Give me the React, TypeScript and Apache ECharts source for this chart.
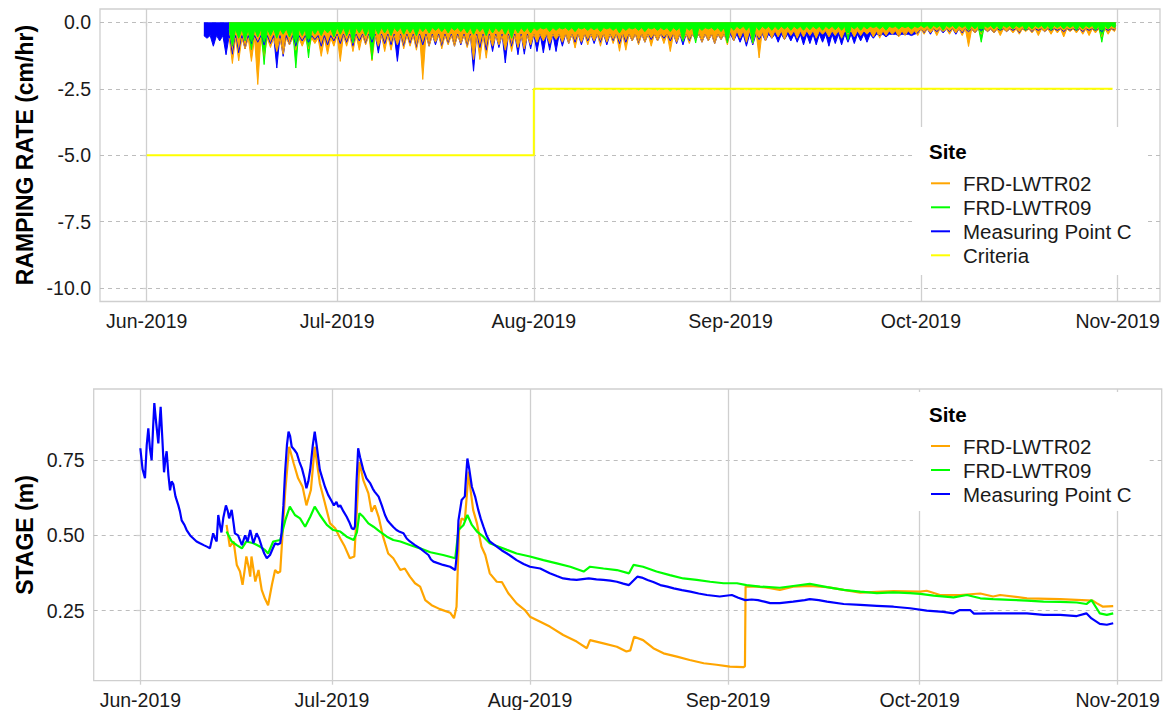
import React, { useEffect, useRef } from "react";
import * as echarts from "echarts";

// ---------- shared ----------
const DAY = 86400000;
const JUN1 = new Date(2019, 5, 1).getTime();
const t = (d: number) => JUN1 + d * DAY; // day offset -> time
const MONTH_NAMES = ["Jan", "Feb", "Mar", "Apr", "May", "Jun", "Jul", "Aug", "Sep", "Oct", "Nov", "Dec"];
// day offsets (since Jun 1, 2019) of Jun 1 .. Nov 1
const MONTH_TICKS = [0, 30, 61, 92, 122, 153];
const SITES = ["FRD-LWTR02", "FRD-LWTR09", "Measuring Point C", "Criteria"];
const COLORS: Record<string, string> = {
  "FRD-LWTR02": "#FFA500",
  "FRD-LWTR09": "#00FF00",
  "Measuring Point C": "#0000FF",
  Criteria: "#FFFF00",
};

// ---------- ramping rate (cm/hr): daily minimum drop, read per day ----------
const RAMP_TICKS = [-10, -7.5, -5, -2.5, 0];
// typical dense band depth per month (Jun..Oct)
const rampBandOrange = [-0.6, -0.5, -0.45, -0.32, -0.25];
const rampBandGreen = [-0.25, -0.2, -0.2, -0.15, -0.12];
const rampBandBlue = [-0.5, -0.45, -0.45, -0.45, -0.25];
const rampStartBlue = 9; // Jun 10
const rampStartSites = 13; // Jun 14
const rampMinBlue = [
  -0.6, -0.9, -0.7, -1.22, -1.2, -1.15, -1.0, -0.8, -0.75, -0.85, -0.8, -1.72, -1.28, -0.85, -0.9, -0.7, -0.75, -0.65, -0.9, -0.85, -0.7,
  -0.8, -0.75, -0.9, -0.7, -0.8, -0.75, -1.16, -0.8, -0.85, -1.47, -0.9, -0.8, -0.95, -0.85, -0.9, -0.85, -0.9, -0.8, -0.9, -0.85, -0.9, -1.84, -0.95, -1.05, -1.1, -0.95, -1.53, -0.9, -1.22, -1.2, -1.0,
  -1.1, -1.15, -1.05, -1.1, -0.9, -0.8, -0.75, -0.85, -0.7, -0.8, -0.75, -0.85, -0.7, -0.8, -0.75, -0.7, -0.8, -0.75, -0.65, -0.7, -0.6, -0.7, -0.8, -0.85, -0.7, -0.65, -0.75, -0.7, -0.8, -0.65, -0.7,
  -0.7, -0.75, -0.9, -0.85, -0.65, -0.7, -0.6, -0.75, -0.65, -0.7, -0.75, -0.85, -0.8, -0.85, -0.75, -0.9, -0.8, -0.85, -0.75, -0.8, -0.7, -0.75, -0.6, -0.5, -0.55, -0.45, -0.5, -0.45, -0.5, -0.4,
  -0.4, -0.45, -0.35, -0.4, -0.35, -0.45, -0.4, -0.35, -0.4, -0.3, -0.35, -0.4, -0.3, -0.35, -0.3, -0.4, -0.3, -0.35, -0.3, -0.35, -0.3, -0.3, -0.35, -0.3, -0.3, -0.35, -0.3, -0.3, -0.35, -0.3, -0.3,
];
const rampMinOrange = [
  -1.55, -1.45, -1.0, -1.47, -2.34, -1.3, -0.95, -1.1, -1.2, -0.85, -1.05, -0.9, -1.0, -0.8, -1.28, -1.2, -0.9,
  -1.47, -0.9, -1.1, -1.05, -0.85, -1.45, -0.9, -1.1, -1.05, -0.85, -1.0, -0.9, -1.05, -2.15, -0.9, -0.75, -1.0, -0.85, -0.9, -0.8, -0.95, -1.4, -1.4, -1.35, -0.9, -0.85, -1.05, -1.1, -0.95, -1.0, -0.85,
  -0.75, -0.7, -0.8, -0.65, -0.75, -0.8, -0.97, -0.75, -0.85, -0.7, -0.9, -0.75, -0.8, -1.09, -1.05, -0.7, -0.85, -0.75, -0.9, -0.7, -0.8, -1.1, -0.75, -0.7, -0.8, -0.65, -0.75, -0.7, -0.8, -0.65, -0.85,
  -0.7, -0.6, -0.75, -0.8, -1.34, -0.7, -0.6, -0.55, -0.65, -0.5, -0.6, -0.55, -0.5, -0.6, -0.45, -0.55, -0.5, -0.6, -0.45, -0.55, -0.5, -0.45, -0.55, -0.6, -0.5, -0.45, -0.55, -0.5, -0.45, -0.5,
  -0.45, -0.4, -0.5, -0.35, -0.45, -0.4, -0.5, -0.91, -0.4, -0.45, -0.35, -0.4, -0.5, -0.35, -0.4, -0.45, -0.35, -0.4, -0.5, -0.35, -0.45, -0.4, -0.55, -0.35, -0.4, -0.45, -0.5, -0.4, -0.55, -0.45, -0.35,
];
const rampMinGreen = [
  -0.9, -0.6, -0.7, -1.03, -0.55, -1.59, -0.5, -0.6, -0.45, -0.55, -1.72, -0.5, -1.34, -0.45, -0.5, -0.4, -0.55,
  -0.45, -0.5, -0.78, -0.4, -0.5, -1.4, -0.45, -0.4, -0.5, -0.35, -0.45, -0.4, -0.5, -0.35, -0.4, -0.3, -0.35, -0.4, -0.3, -0.35, -0.4, -0.45, -0.35, -0.5, -0.4, -0.35, -0.45, -0.6, -0.4, -0.35, -0.4,
  -0.3, -0.25, -0.35, -0.3, -0.25, -0.3, -0.35, -0.25, -0.3, -0.28, -0.35, -0.25, -0.3, -0.4, -0.3, -0.25, -0.3, -0.35, -0.25, -0.3, -0.28, -0.35, -0.3, -0.72, -0.3, -0.78, -0.3, -0.25, -0.3, -0.35, -0.78,
  -0.3, -0.25, -0.3, -0.78, -0.3, -0.25, -0.3, -0.28, -0.25, -0.3, -0.25, -0.3, -0.28, -0.25, -0.3, -0.25, -0.28, -0.3, -0.65, -0.25, -0.3, -0.25, -0.2, -0.25, -0.3, -0.2, -0.25, -0.2, -0.25, -0.2,
  -0.2, -0.25, -0.2, -0.3, -0.2, -0.25, -0.2, -0.3, -0.25, -0.75, -0.2, -0.25, -0.3, -0.2, -0.25, -0.2, -0.3, -0.25, -0.2, -0.25, -0.3, -0.2, -0.25, -0.2, -0.3, -0.25, -0.2, -0.3, -0.75, -0.25, -0.2,
];
const criteriaDays = [0, 61, 61, 152.2];
const criteriaValues = [-5, -5, -2.5, -2.5];

// ---------- stage (m): [day since Jun 1, value] ----------
const STAGE_TICKS = [0.25, 0.5, 0.75];
const stageOrange: [number, number][] = [
  [13.5, 0.535], [14.0, 0.463], [14.6, 0.48], [15.1, 0.402], [15.6, 0.38], [16.0, 0.336], [16.3, 0.38], [16.6, 0.43], [17.0, 0.39], [17.2, 0.363], [17.4, 0.43], [18.0, 0.347], [18.5, 0.385], [19.0, 0.319], [19.5, 0.29], [20.0, 0.268], [20.6, 0.336], [21.1, 0.385], [21.5, 0.375], [21.9, 0.38],
  [22.3, 0.518], [22.7, 0.651], [23.3, 0.795], [24.0, 0.74], [24.7, 0.69], [25.4, 0.662], [26.0, 0.6], [26.7, 0.651], [27.3, 0.795], [28.1, 0.673], [28.9, 0.607], [29.7, 0.54], [30.5, 0.524], [31.3, 0.49], [32.0, 0.463], [32.8, 0.424], [33.5, 0.43],
  [33.9, 0.585], [34.3, 0.745], [34.9, 0.684], [35.7, 0.64], [36.2, 0.579], [36.7, 0.6], [37.3, 0.562], [38.0, 0.496], [38.8, 0.44], [39.6, 0.424], [40.7, 0.385], [41.4, 0.39], [42.2, 0.363], [43.0, 0.341], [43.8, 0.33], [44.6, 0.285], [45.6, 0.268], [46.9, 0.255], [48.5, 0.243], [49.1, 0.225], [49.5, 0.263],
  [49.9, 0.518], [50.3, 0.557], [50.8, 0.55], [51.4, 0.712], [51.7, 0.651], [52.1, 0.585], [52.7, 0.54], [53.4, 0.463], [54.0, 0.435], [54.7, 0.374], [55.8, 0.346], [56.6, 0.345], [57.6, 0.308], [58.9, 0.274], [60.2, 0.252], [61.0, 0.23], [62.6, 0.213], [64.1, 0.197], [66.2, 0.169], [68.3, 0.147], [69.9, 0.125], [70.4, 0.152],
  [72.5, 0.141], [74.6, 0.13], [76.1, 0.114], [76.7, 0.118], [77.3, 0.163], [78.7, 0.152], [80.3, 0.125], [81.9, 0.108], [84.0, 0.097], [86.0, 0.086], [88.2, 0.075], [90.2, 0.07], [92.3, 0.064], [94.4, 0.062], [94.65, 0.065], [94.75, 0.33],
  [96.5, 0.33], [98.6, 0.325], [100.1, 0.319], [102.2, 0.33], [104.8, 0.332], [107.5, 0.328], [110.1, 0.319], [112.7, 0.31], [117.9, 0.315], [122.1, 0.313], [123.1, 0.316], [125.2, 0.302], [128.3, 0.302], [131.5, 0.307], [133.5, 0.297], [134.6, 0.302], [138.8, 0.291], [144.0, 0.288], [149.1, 0.283], [149.7, 0.275], [150.7, 0.263], [152.3, 0.265],
];
const stageGreen: [number, number][] = [
  [13.5, 0.513], [14.3, 0.48], [15.1, 0.468], [15.9, 0.457], [16.6, 0.48], [17.7, 0.474], [18.7, 0.463], [19.5, 0.452], [20.0, 0.44], [20.8, 0.48], [21.9, 0.485], [22.7, 0.551], [23.4, 0.596], [24.2, 0.568], [25.0, 0.557], [25.8, 0.529], [26.6, 0.562], [27.3, 0.596], [28.1, 0.568], [29.2, 0.535],
  [30.2, 0.518], [31.3, 0.513], [32.3, 0.496], [33.4, 0.485], [33.9, 0.51], [34.3, 0.574], [34.9, 0.562], [35.7, 0.54], [36.5, 0.529], [37.5, 0.513], [38.6, 0.496], [39.6, 0.485], [40.7, 0.48], [42.2, 0.468], [43.8, 0.457], [45.4, 0.444], [47.4, 0.435], [49.3, 0.424],
  [49.8, 0.518], [50.6, 0.535], [51.2, 0.568], [51.9, 0.535], [52.7, 0.513], [53.7, 0.496], [54.7, 0.474], [55.8, 0.465], [57.4, 0.452], [58.9, 0.44], [61.0, 0.43], [63.1, 0.418], [65.2, 0.407], [67.3, 0.396], [69.4, 0.38], [70.4, 0.396], [72.5, 0.39], [74.6, 0.385], [76.5, 0.374], [77.2, 0.402],
  [78.7, 0.396], [80.8, 0.38], [82.9, 0.368], [85.0, 0.357], [87.1, 0.352], [89.2, 0.346], [91.3, 0.341], [93.4, 0.341], [94.9, 0.335], [97.0, 0.33], [100.1, 0.326], [102.2, 0.332], [104.8, 0.339], [107.5, 0.328], [110.1, 0.319], [112.7, 0.313], [115.3, 0.308], [117.9, 0.311], [120.5, 0.308],
  [122.1, 0.306], [124.2, 0.3], [127.3, 0.294], [129.4, 0.302], [131.5, 0.291], [133.5, 0.288], [136.2, 0.286], [138.8, 0.283], [141.4, 0.28], [144.0, 0.279], [146.6, 0.277], [148.1, 0.272], [148.9, 0.285], [149.7, 0.258], [150.2, 0.241], [151.3, 0.236], [152.3, 0.241],
];
const stageBlue: [number, number][] = [
  [0, 0.79], [0.35, 0.72], [0.73, 0.69], [1.0, 0.8], [1.25, 0.856], [1.5, 0.79], [1.77, 0.75], [2.0, 0.86], [2.19, 0.94], [2.5, 0.87], [2.82, 0.806], [3.0, 0.87], [3.18, 0.928], [3.45, 0.82], [3.71, 0.71], [3.9, 0.75], [4.12, 0.78], [4.4, 0.7], [4.65, 0.65], [4.9, 0.68], [5.17, 0.67], [5.5, 0.63],
  [5.95, 0.6], [6.2, 0.58], [6.47, 0.55], [6.9, 0.535], [7.25, 0.518], [7.8, 0.5], [8.3, 0.49], [8.8, 0.48], [9.34, 0.474], [10.0, 0.467], [10.5, 0.462], [10.9, 0.457], [11.4, 0.507], [11.7, 0.49], [11.95, 0.48], [12.2, 0.568], [12.5, 0.53], [12.7, 0.51], [13.0, 0.56], [13.4, 0.6], [13.7, 0.58],
  [13.9, 0.557], [14.3, 0.585], [14.6, 0.54], [14.8, 0.507], [15.3, 0.5], [15.9, 0.468], [16.4, 0.5], [16.8, 0.48], [17.2, 0.518], [17.7, 0.474], [18.2, 0.507], [18.6, 0.49], [19.0, 0.463], [19.4, 0.44], [19.8, 0.424], [20.3, 0.435], [20.7, 0.455], [21.1, 0.474], [21.5, 0.47], [21.9, 0.474],
  [22.1, 0.507], [22.4, 0.6], [22.65, 0.706], [22.95, 0.8], [23.2, 0.845], [23.45, 0.83], [23.7, 0.795], [24.1, 0.785], [24.5, 0.773], [24.9, 0.745], [25.3, 0.723], [25.7, 0.69], [26.0, 0.657], [26.3, 0.68], [26.6, 0.72], [27.0, 0.8], [27.3, 0.845], [27.6, 0.8], [28.1, 0.718], [28.5, 0.69],
  [28.9, 0.662], [29.4, 0.635], [30.0, 0.612], [30.3, 0.6], [30.7, 0.612], [31.0, 0.595], [31.3, 0.6], [31.8, 0.58], [32.3, 0.562], [32.7, 0.545], [33.1, 0.524], [33.4, 0.52], [33.6, 0.53], [33.85, 0.68], [34.1, 0.79], [34.4, 0.76], [34.9, 0.718], [35.4, 0.69], [36.0, 0.673], [36.4, 0.655],
  [36.7, 0.645], [37.3, 0.629], [37.8, 0.6], [38.3, 0.568], [38.7, 0.55], [39.1, 0.54], [39.6, 0.528], [40.1, 0.518], [40.6, 0.512], [41.2, 0.507], [41.7, 0.49], [42.2, 0.48], [43.0, 0.468], [43.8, 0.457], [44.5, 0.445], [45.1, 0.435], [45.5, 0.42], [45.9, 0.413], [47.4, 0.402], [48.5, 0.396],
  [49.3, 0.385], [49.6, 0.45], [49.8, 0.55], [50.3, 0.618], [50.8, 0.63], [51.0, 0.7], [51.2, 0.756], [51.5, 0.72], [51.9, 0.662], [52.4, 0.63], [52.9, 0.585], [53.3, 0.555], [53.7, 0.53], [54.2, 0.5], [54.7, 0.48], [55.8, 0.463], [56.6, 0.45], [57.4, 0.44], [58.1, 0.43], [58.9, 0.418],
  [60.0, 0.405], [61.0, 0.396], [62.6, 0.39], [64.1, 0.374], [65.2, 0.365], [66.2, 0.357], [67.3, 0.354], [68.3, 0.352], [70.2, 0.357], [71.4, 0.354], [72.5, 0.352], [73.6, 0.35], [74.6, 0.346], [75.6, 0.34], [76.5, 0.335], [77.2, 0.35], [77.8, 0.363], [78.5, 0.36], [79.4, 0.352],
  [80.3, 0.345], [81.4, 0.335], [82.5, 0.33], [83.5, 0.324], [84.8, 0.318], [86.1, 0.313], [87.4, 0.307], [88.7, 0.302], [90.7, 0.297], [92.6, 0.302], [93.6, 0.293], [94.7, 0.285], [95.7, 0.287], [96.7, 0.285], [97.7, 0.28], [98.6, 0.275], [100.1, 0.275], [102.2, 0.28], [104.0, 0.285],
  [104.8, 0.288], [106.2, 0.285], [107.5, 0.28], [110.1, 0.272], [112.7, 0.269], [115.3, 0.266], [117.9, 0.263], [120.5, 0.258], [123.1, 0.25], [125.7, 0.246], [127.3, 0.241], [128.3, 0.252], [129.9, 0.252], [130.5, 0.24], [133.5, 0.241], [136.2, 0.241], [138.8, 0.241], [141.4, 0.236],
  [144.0, 0.236], [146.6, 0.232], [148.1, 0.241], [148.9, 0.224], [150.2, 0.206], [151.3, 0.203], [152.3, 0.208],
];

// ---------- helpers ----------
const bandAt = (band: number[], d: number) => {
  const m = new Date(t(d)).getMonth() - 5;
  return band[Math.max(0, Math.min(band.length - 1, m))];
};
function rampData(start: number, mins: number[], band: number[]) {
  const out: [number, number][] = [];
  mins.forEach((v, i) => {
    const d = start + i;
    out.push([d, bandAt(band, d)]);
    out.push([d + 0.5, v]);
  });
  const last = start + mins.length - 0.3;
  out.push([last, bandAt(band, last)]);
  return out;
}

const FONT = '"Liberation Sans", Arial, Helvetica, sans-serif';
const GRID_COLOR = "#cfcfcf";
const TXT = "#1a1a1a";

function xAxis(gridIndex: number, minD: number, maxD: number) {
  return {
    type: "value",
    gridIndex,
    min: minD,
    max: maxD,
    axisLine: { show: false },
    axisTick: { show: true, length: 4, customValues: MONTH_TICKS, lineStyle: { color: GRID_COLOR, width: 1.3 } },
    axisLabel: {
      customValues: MONTH_TICKS,
      formatter: (v: number) => {
        const dt = new Date(t(v) + 3600000 * 6);
        return MONTH_NAMES[dt.getMonth()] + "-" + dt.getFullYear();
      },
      fontSize: 19.5,
      fontFamily: FONT,
      color: TXT,
      margin: 9,
    },
    splitLine: { show: true, lineStyle: { color: GRID_COLOR, width: 1.3, type: "solid" } },
  };
}
function yAxis(gridIndex: number, min: number, max: number, ticks: number[], dec: number) {
  return {
    type: "value",
    gridIndex,
    min,
    max,
    axisLine: { show: false },
    axisTick: { show: true, length: 4, customValues: ticks, lineStyle: { color: GRID_COLOR, width: 1.3 } },
    axisLabel: {
      customValues: ticks,
      formatter: (v: number) => v.toFixed(dec),
      fontSize: 19.5,
      fontFamily: FONT,
      color: TXT,
      margin: 9,
    },
    splitLine: { show: true, lineStyle: { color: "#bdbdbd", width: 1, type: [4, 4] } },
  };
}
function legend(top: number, padding: number[], data: string[]) {
  return {
    orient: "vertical",
    left: 913,
    top,
    padding,
    data,
    itemWidth: 19,
    itemHeight: 2,
    itemGap: 0,
    icon: "rect",
    selectedMode: false,
    backgroundColor: "#ffffff",
    textStyle: { fontSize: 20.5, fontFamily: FONT, color: TXT, lineHeight: 24, padding: [0, 0, 0, 8] },
  };
}

export default function App() {
  const ref = useRef<HTMLDivElement>(null);
  useEffect(() => {
    if (!ref.current) return;
    const chart = echarts.init(ref.current, undefined, { renderer: "svg" });
    const rampSeries = (name: string, data: [number, number][]) => ({
      name,
      type: "line",
      xAxisIndex: 0,
      yAxisIndex: 0,
      data,
      showSymbol: false,
      symbol: "none",
      silent: true,
      color: COLORS[name],
      lineStyle: { color: COLORS[name], width: 1 },
      areaStyle: { color: COLORS[name], opacity: 1 },
    });
    const stageSeries = (name: string, data: [number, number][]) => ({
      name,
      type: "line",
      xAxisIndex: 1,
      yAxisIndex: 1,
      data,
      showSymbol: false,
      symbol: "none",
      silent: true,
      color: COLORS[name],
      lineStyle: { color: COLORS[name], width: 2.2 },
    });
    chart.setOption({
      animation: false,
      grid: [
        { left: 100, top: 9, width: 1060, height: 292.5, show: true, borderColor: GRID_COLOR, borderWidth: 1.3 },
        { left: 93.7, top: 389, width: 1068, height: 291.7, show: true, borderColor: GRID_COLOR, borderWidth: 1.3 },
      ],
      xAxis: [xAxis(0, -7.36, 159.67), xAxis(1, -7.3, 159.89)],
      yAxis: [yAxis(0, -10.5, 0.5, RAMP_TICKS, 1), yAxis(1, 0.017, 0.987, STAGE_TICKS, 2)],
      legend: [
        legend(127, [44.3, 16, 7.7, 18], SITES),
        legend(392, [42, 16, 5, 18], SITES.slice(0, 3)),
      ],
      series: [
        rampSeries("Measuring Point C", rampData(rampStartBlue, rampMinBlue, rampBandBlue)),
        rampSeries("FRD-LWTR02", rampData(rampStartSites, rampMinOrange, rampBandOrange)),
        rampSeries("FRD-LWTR09", rampData(rampStartSites, rampMinGreen, rampBandGreen)),
        {
          name: "Criteria",
          type: "line",
          xAxisIndex: 0,
          yAxisIndex: 0,
          data: criteriaDays.map((d, i) => [d, criteriaValues[i]]),
          showSymbol: false,
          symbol: "none",
          silent: true,
          color: COLORS.Criteria,
          lineStyle: { color: COLORS.Criteria, width: 2 },
        },
        stageSeries("FRD-LWTR02", stageOrange),
        stageSeries("FRD-LWTR09", stageGreen),
        stageSeries("Measuring Point C", stageBlue),
      ],
      graphic: [
        {
          type: "text", x: 25, y: 155, rotation: Math.PI / 2, z: 100,
          style: { text: "RAMPING RATE (cm/hr)", fontSize: 23, fontWeight: "bold", fontFamily: FONT, fill: "#000", align: "center", verticalAlign: "middle" },
        },
        {
          type: "text", x: 25, y: 535, rotation: Math.PI / 2, z: 100,
          style: { text: "STAGE (m)", fontSize: 23, fontWeight: "bold", fontFamily: FONT, fill: "#000", align: "center", verticalAlign: "middle" },
        },
        {
          type: "text", x: 929, y: 151, z: 100,
          style: { text: "Site", fontSize: 20.5, fontWeight: "bold", fontFamily: FONT, fill: "#000", align: "left", verticalAlign: "middle" },
        },
        {
          type: "text", x: 929, y: 414, z: 100,
          style: { text: "Site", fontSize: 20.5, fontWeight: "bold", fontFamily: FONT, fill: "#000", align: "left", verticalAlign: "middle" },
        },
      ],
    });
    return () => chart.dispose();
  }, []);
  return <div ref={ref} style={{ position: "absolute", left: 0, top: 0, width: 1167, height: 710 }} />;
}
